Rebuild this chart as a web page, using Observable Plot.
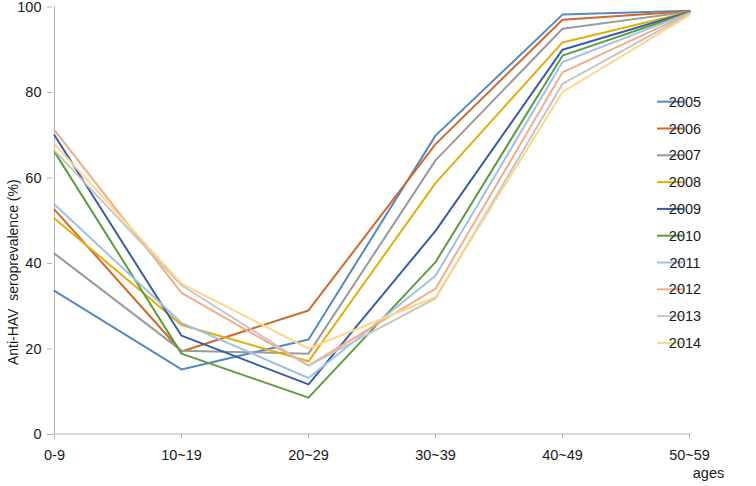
<!DOCTYPE html>
<html>
<head>
<meta charset="utf-8">
<script src="https://cdn.jsdelivr.net/npm/d3@7"></script>
<script src="https://cdn.jsdelivr.net/npm/@observablehq/plot@0.6"></script>
<style>
  html, body { margin: 0; padding: 0; background: #fff; }
  #chart svg { display: block; }
</style>
</head>
<body>
<div id="chart"></div>
<script>
const ages = ["0-9", "10~19", "20~29", "30~39", "40~49", "50~59"];
const years = ["2005", "2006", "2007", "2008", "2009", "2010", "2011", "2012", "2013", "2014"];
const v2005 = [33.5, 15.1, 22.1, 69.8, 98.1, 99.0];
const v2006 = [52.5, 19.3, 28.9, 67.8, 96.9, 98.9];
const v2007 = [42.2, 19.5, 18.8, 64.0, 94.8, 98.8];
const v2008 = [50.4, 25.5, 17.0, 58.7, 91.6, 98.7];
const v2009 = [69.9, 23.0, 11.6, 47.5, 89.9, 98.7];
const v2010 = [66.0, 18.8, 8.5, 40.2, 88.5, 98.6];
const v2011 = [53.7, 26.0, 13.1, 37.0, 87.0, 98.5];
const v2012 = [71.1, 33.0, 16.0, 34.0, 84.6, 98.4];
const v2013 = [66.3, 34.8, 16.0, 31.7, 81.9, 98.3];
const v2014 = [67.8, 35.2, 20.0, 32.0, 80.0, 98.0];
const yTicks = [0, 20, 40, 60, 80, 100];
const colors = ["#5589C2", "#D0692B", "#9A9A9A", "#E2AF0A", "#3A5DA8", "#5E9C3E", "#9EC2E6", "#F2AD87", "#C6C6C6", "#FDD68A"];
const yTitle = "Anti-HAV  seroprevalence (%)";
const xTitle = "ages";

const seriesValues = [v2005, v2006, v2007, v2008, v2009, v2010, v2011, v2012, v2013, v2014];
const rows = [];
years.forEach((yr, i) => ages.forEach((a, j) => rows.push({year: yr, age: a, value: seriesValues[i][j]})));

const font = "Liberation Sans, Arial, sans-serif";
const axisGray = "#B3B3B3";

const plot = Plot.plot({
  width: 756,
  height: 486,
  marginLeft: 52,
  marginRight: 66,
  marginTop: 6,
  marginBottom: 52.5,
  style: {fontFamily: font, fontSize: "14.5px", color: "#1a1a1a", background: "#fff"},
  x: {type: "point", domain: ages, padding: 0},
  y: {domain: [0, 100]},
  color: {domain: years, range: colors},
  marks: [
    Plot.ruleX([ages[0]], {y1: 0, y2: 100, stroke: axisGray, strokeWidth: 1}),
    Plot.ruleY([0], {stroke: axisGray, strokeWidth: 1}),
    Plot.axisY({ticks: yTicks, tickSize: 5, tickPadding: 6, stroke: axisGray, label: null, fill: "#1a1a1a", dy: 0.5}),
    Plot.axisX({tickSize: 5, tickPadding: 11, stroke: axisGray, label: null, fill: "#1a1a1a"}),
    Plot.line(rows, {x: "age", y: "value", z: "year", stroke: "year", strokeWidth: 2, strokeLinejoin: "round"}),
    Plot.text([yTitle], {frameAnchor: "left", dx: -39, dy: 52, rotate: -90, textAnchor: "middle", fontSize: 14, fill: "#1a1a1a"}),
    Plot.text([xTitle], {frameAnchor: "bottom-right", dx: 18, dy: 43.5, textAnchor: "middle", fontSize: 14.5, fill: "#1a1a1a"})
  ]
});

// Legend (line swatches), using the plot's colour scale
const cs = plot.scale("color");
const svg = d3.select(plot);
const lg = svg.append("g").attr("font-family", font).attr("font-size", 14.5).attr("fill", "#1a1a1a");
cs.domain.forEach((yr, i) => {
  const cy = 101.7 + i * 26.8;
  lg.append("line").attr("x1", 657).attr("x2", 683).attr("y1", cy).attr("y2", cy)
    .attr("stroke", cs.apply(yr)).attr("stroke-width", 2);
  lg.append("text").attr("x", 685).attr("y", cy).attr("dy", "0.35em").text(yr);
});

document.getElementById("chart").appendChild(plot);
</script>
</body>
</html>
